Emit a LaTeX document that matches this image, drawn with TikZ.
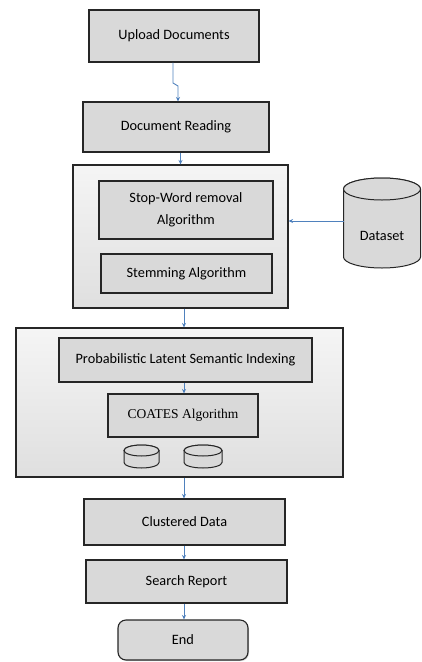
\documentclass[tikz,border=0pt]{standalone}
\usepackage{fontspec}
\setmainfont{Carlito}
\newfontfamily\timesf{Liberation Serif}
\usetikzlibrary{arrows.meta,shadows}
\definecolor{boxgray}{HTML}{D9D9D9}
\definecolor{linkblue}{HTML}{4F81BD}
\begin{document}
\begin{tikzpicture}[x=1pt,y=-1pt,
  box/.style={draw=black!85, line width=1.1pt, fill=boxgray, align=center, inner sep=0pt,
    font=\fontsize{14.3}{17}\selectfont, drop shadow={shadow xshift=1pt, shadow yshift=-1pt, opacity=0.35}},
  group/.style={draw=black!85, line width=1.1pt, top color=gray!8, bottom color=gray!25, inner sep=0pt,
    drop shadow={shadow xshift=1pt, shadow yshift=-1pt, opacity=0.35}},
  cyl/.style={draw=black!85, line width=1pt, fill=boxgray},
  link/.style={draw=linkblue, line width=0.9pt, -{Stealth[length=4.5pt,width=4pt]}}]
\useasboundingbox (0,0) rectangle (422,662);
% top boxes
\node[box, minimum width=170pt, minimum height=52pt] (up) at (174,36) {Upload Documents};
\node[box, minimum width=186pt, minimum height=50pt] (dr) at (176,127) {Document Reading};
% group 1
\node[group, minimum width=215pt, minimum height=143pt] (g1) at (180.5,236.5) {};
\node[box, minimum width=174pt, minimum height=58pt, font=\fontsize{14.3}{22}\selectfont] (sw) at (186,210) {Stop-Word removal\\Algorithm};
\node[box, minimum width=171pt, minimum height=39pt] (st) at (186.5,273.5) {Stemming Algorithm};
% dataset cylinder
\filldraw[cyl] (343.5,189) -- (343.5,257) arc (180:0:38.5 and 11) -- (420.5,189) arc (0:-180:38.5 and 11) -- cycle;
\draw[cyl] (382,189) ellipse (38.5 and 11);
\node[font=\fontsize{14.3}{17}\selectfont] (ds) at (382,236) {Dataset};
\coordinate (dsw) at (343.5,221);
% group 2
\node[group, minimum width=327pt, minimum height=149pt] (g2) at (179.5,402.5) {};
\node[box, minimum width=253pt, minimum height=44pt] (pl) at (185.5,360) {Probabilistic Latent Semantic Indexing};
\node[box, minimum width=150pt, minimum height=43pt, font=\timesf\fontsize{13.5}{16}\selectfont] (co) at (183,415.5) {COATES Algorithm};
% small cylinders
\filldraw[cyl] (124,450.5) -- (124,462.5) arc (180:0:17.5 and 5.5) -- (159,450.5) arc (0:-180:17.5 and 5.5) -- cycle;
\draw[cyl] (141.5,450.5) ellipse (17.5 and 5.5);
\filldraw[cyl] (184,450.5) -- (184,462.5) arc (180:0:19 and 5.5) -- (222,450.5) arc (0:-180:19 and 5.5) -- cycle;
\draw[cyl] (203,450.5) ellipse (19 and 5.5);
% bottom boxes
\node[box, minimum width=201pt, minimum height=46pt] (cl) at (184.5,522) {Clustered Data};
\node[box, minimum width=201pt, minimum height=43pt] (sr) at (186.5,581.5) {Search Report};
\node[box, rounded corners=8pt, minimum width=130pt, minimum height=40pt] (en) at (183,640) {End};
% connectors
\coordinate (j1) at (173,83);
\coordinate (j2) at (178,86);
\draw[link] (up.south -| j1) -- (j1) -- (j2) -- (j2 |- dr.north);
\draw[link] (dr.south -| g1) -- (g1.north);
\draw[link] ([xshift=-1.5pt]g1.south -| pl) -- ([xshift=-1.5pt]g2.north -| pl);
\draw[link] ([xshift=-1.5pt]pl.south) -- ([xshift=-1.5pt]co.north -| pl);
\draw[link] ([xshift=-1.5pt]g2.south -| pl) -- ([xshift=-1.5pt]cl.north -| pl);
\draw[link] ([xshift=-1.5pt]cl.south -| pl) -- ([xshift=-1.5pt]sr.north -| pl);
\draw[link] ([xshift=-1.5pt]sr.south -| pl) -- ([xshift=-1.5pt]en.north -| pl);
\draw[link] (dsw) -- (g1.east |- dsw);
\end{tikzpicture}
\end{document}
